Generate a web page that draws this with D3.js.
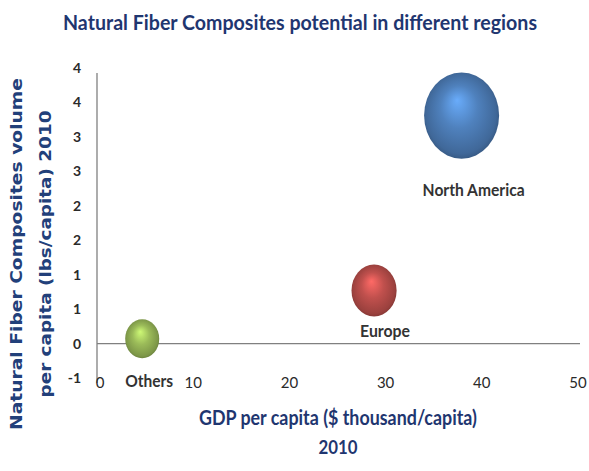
<!DOCTYPE html>
<html>
<head>
<meta charset="utf-8">
<script src="https://cdn.jsdelivr.net/npm/d3@7"></script>
<style>
  html, body { margin: 0; padding: 0; background: #fff; }
  svg { display: block; }
</style>
</head>
<body>
<div id="chart"></div>
<script>
// Regions and their bubble values
const regions = ["Others", "Europe", "North America"];
const gdpPerCapita = [4.7, 28.8, 37.9];          // $ thousand / capita, 2010
const nfcVolume = [0.07, 0.77, 3.31];             // lbs / capita, 2010
const bubbleSize = [2.9, 5.1, 14.1];              // relative bubble size

// Axis ticks (values and their printed labels)
const xTickValues = [0, 10, 20, 30, 40, 50];
const xTickLabels = ["0", "10", "20", "30", "40", "50"];
const yTickValues = [-0.5, 0, 0.5, 1, 1.5, 2, 2.5, 3, 3.5, 4];
const yTickLabels = ["-1", "0", "1", "1", "2", "2", "3", "3", "4", "4"];

const palette = ["#9BBB59", "#C0504D", "#4F81BD"];

const W = 589, H = 471;
const svg = d3.select("#chart").append("svg").attr("width", W).attr("height", H);

const x = d3.scaleLinear().domain([0, 50]).range([97, 578]);
const y = d3.scaleLinear().domain([-0.5, 4]).range([378, 68]);
const r = d3.scaleSqrt().domain([0, d3.max(bubbleSize)]).range([0, 37.5]);
const stretch = 1.15; // vertical elongation of bubbles

// Gradients for 3D-looking bubbles
const defs = svg.append("defs");
palette.forEach((c, i) => {
  const base = d3.color(c);
  const g = defs.append("radialGradient").attr("id", "bub" + i)
    .attr("cx", "50%").attr("cy", "50%").attr("r", "55%")
    .attr("fx", "44%").attr("fy", "32%");
  g.append("stop").attr("offset", "0%").attr("stop-color", base.brighter(0.8));
  g.append("stop").attr("offset", "45%").attr("stop-color", base);
  g.append("stop").attr("offset", "85%").attr("stop-color", base.darker(0.6));
  g.append("stop").attr("offset", "100%").attr("stop-color", base.darker(1.3));
});

// Axis lines
svg.append("line").attr("x1", x(0)).attr("x2", x(50) + 2)
  .attr("y1", y(0)).attr("y2", y(0)).attr("stroke", "#808080").attr("stroke-width", 1.3);
svg.append("line").attr("x1", x(0)).attr("x2", x(0))
  .attr("y1", y(4) + 5).attr("y2", y(-0.5) + 5).attr("stroke", "#808080").attr("stroke-width", 1.3);

// Y tick labels
svg.append("g").selectAll("text").data(yTickValues).join("text")
  .attr("x", 81).attr("y", d => y(d) + 5)
  .attr("text-anchor", "end")
  .attr("font-family", "Lato, sans-serif").attr("font-weight", 700)
  .attr("font-size", 14).attr("fill", "#2a2a2a")
  .text((d, i) => yTickLabels[i]);

// X tick labels (placed below the plot)
svg.append("g").selectAll("text").data(xTickValues).join("text")
  .attr("x", d => x(d) + (d === 0 ? 3 : 0)).attr("y", 388)
  .attr("text-anchor", "middle")
  .attr("font-family", "Lato, sans-serif").attr("font-weight", 400)
  .attr("font-size", 15).attr("fill", "#2a2a2a")
  .text((d, i) => xTickLabels[i]);

// Bubbles
const pts = regions.map((name, i) => ({
  name, gx: gdpPerCapita[i], vy: nfcVolume[i], s: bubbleSize[i], i
}));
svg.append("g").selectAll("ellipse").data(pts).join("ellipse")
  .attr("cx", d => x(d.gx)).attr("cy", d => y(d.vy))
  .attr("rx", d => r(d.s)).attr("ry", d => r(d.s) * stretch)
  .attr("fill", d => `url(#bub${d.i})`);

// Bubble labels: offset from bubble centre, label width
const labelPos = [
  { dx: 7, y: 387, w: 48 },
  { dx: 11, dy: 46.5, w: 50 },
  { dx: 12, dy: 80, w: 102 }
];
svg.append("g").selectAll("text").data(pts).join("text")
  .attr("x", d => x(d.gx) + labelPos[d.i].dx)
  .attr("y", d => labelPos[d.i].y !== undefined ? labelPos[d.i].y
                 : y(d.vy) + labelPos[d.i].dy)
  .attr("text-anchor", "middle")
  .attr("font-family", "Lato, sans-serif").attr("font-weight", 700)
  .attr("font-size", 17).attr("fill", "#333")
  .attr("textLength", d => labelPos[d.i].w).attr("lengthAdjust", "spacingAndGlyphs")
  .text(d => d.name);

// Title
svg.append("text").attr("x", 300).attr("y", 30)
  .attr("text-anchor", "middle")
  .attr("font-family", "Lato, sans-serif").attr("font-weight", 700)
  .attr("font-size", 20).attr("fill", "#1f3670")
  .attr("textLength", 474).attr("lengthAdjust", "spacingAndGlyphs")
  .text("Natural Fiber Composites potential in different regions");

// X axis title
svg.append("text").attr("x", 338).attr("y", 425)
  .attr("text-anchor", "middle")
  .attr("font-family", "Lato, sans-serif").attr("font-weight", 700)
  .attr("font-size", 20).attr("fill", "#1f3670")
  .attr("textLength", 278).attr("lengthAdjust", "spacingAndGlyphs")
  .text("GDP per capita ($ thousand/capita)");
svg.append("text").attr("x", 338).attr("y", 454)
  .attr("text-anchor", "middle")
  .attr("font-family", "Lato, sans-serif").attr("font-weight", 700)
  .attr("font-size", 18).attr("fill", "#1f3670")
  .attr("textLength", 39).attr("lengthAdjust", "spacingAndGlyphs")
  .text("2010");

// Y axis title (two lines, rotated)
const yTitle = svg.append("g").attr("transform", "translate(0,254) rotate(-90)");
yTitle.append("text").attr("x", 0).attr("y", 22)
  .attr("text-anchor", "middle")
  .attr("font-family", "'DejaVu Sans', sans-serif").attr("font-weight", 700)
  .attr("font-size", 15).attr("fill", "#22407a")
  .attr("textLength", 352).attr("lengthAdjust", "spacingAndGlyphs")
  .text("Natural Fiber Composites volume");
yTitle.append("text").attr("x", 0).attr("y", 51)
  .attr("text-anchor", "middle")
  .attr("font-family", "'DejaVu Sans', sans-serif").attr("font-weight", 700)
  .attr("font-size", 15).attr("fill", "#22407a")
  .attr("textLength", 287).attr("lengthAdjust", "spacingAndGlyphs")
  .text("per capita (lbs/capita)  2010");
</script>
</body>
</html>
